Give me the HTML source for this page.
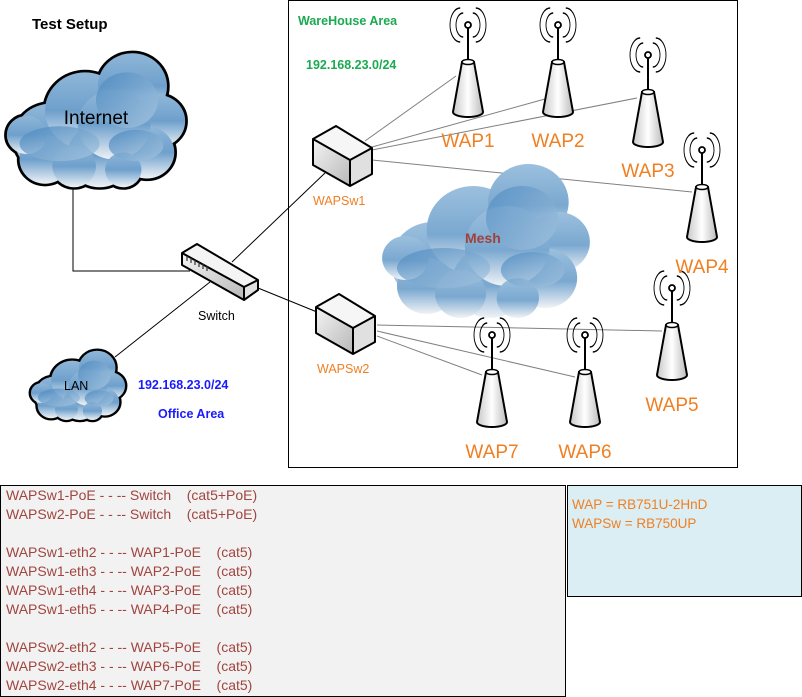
<!DOCTYPE html>
<html><head><meta charset="utf-8"><style>
body{margin:0;background:#fff;}
svg{display:block;font-family:"Liberation Sans",sans-serif;}
.box{position:absolute;border:1px solid #000;font-family:"Liberation Sans",sans-serif;font-size:14px;}
</style></head><body>
<div style="position:relative;width:802px;height:697px;overflow:hidden;">
<svg width="802" height="697" viewBox="0 0 802 697" style="position:absolute;left:0;top:0">
<defs>
<linearGradient id="cg" x1="0" y1="0" x2="0" y2="1">
<stop offset="0" stop-color="#8fb6d8"/><stop offset="0.5" stop-color="#6ea0cc"/><stop offset="1" stop-color="#eef2f6"/>
</linearGradient>
<linearGradient id="cg2" x1="0" y1="0" x2="0" y2="1">
<stop offset="0" stop-color="#9cc0de"/><stop offset="0.55" stop-color="#7aa8d0"/><stop offset="1" stop-color="#f0f3f6"/>
</linearGradient>
<linearGradient id="cd" x1="0" y1="0" x2="1" y2="1">
<stop offset="0" stop-color="#4a88c0"/><stop offset="1" stop-color="#a9c7e0"/>
</linearGradient>
<linearGradient id="bx" x1="0" y1="0" x2="1" y2="1">
<stop offset="0" stop-color="#f4f4f4"/><stop offset="1" stop-color="#b8b8b8"/>
</linearGradient>
<linearGradient id="cone" x1="0" y1="0" x2="1" y2="0">
<stop offset="0" stop-color="#c8c8c8"/><stop offset="0.5" stop-color="#ffffff"/><stop offset="1" stop-color="#bbbbbb"/>
</linearGradient>
<g id="cshape">
<circle cx="25" cy="52" r="20"/><circle cx="44" cy="36" r="22"/><circle cx="70" cy="22" r="19"/>
<circle cx="84" cy="42" r="15"/><circle cx="78" cy="60" r="15"/><circle cx="52" cy="62" r="18"/>
<circle cx="22" cy="64" r="14"/><circle cx="12" cy="50" r="11"/><circle cx="60" cy="44" r="20"/>
<circle cx="38" cy="68" r="12"/><circle cx="65" cy="70" r="10"/>
</g>
<g id="cinner">
<ellipse cx="30" cy="55" rx="22" ry="10"/><ellipse cx="67" cy="30" rx="17" ry="16"/><ellipse cx="72" cy="56" rx="15" ry="9"/>
</g>
<g id="wap">
<path d="M-8,-12 A8,8 0 0 0 -8,12 M8,-12 A8,8 0 0 1 8,12 M-13,-17 A13,13 0 0 0 -13,17 M13,-17 A13,13 0 0 1 13,17" transform="translate(0,-37) scale(0.6,1)" fill="none" stroke="#000" stroke-width="1.5"/>
<line x1="0" y1="-37" x2="0" y2="0" stroke="#000" stroke-width="2"/>
<circle cx="0" cy="-37" r="3" fill="#fff" stroke="#000" stroke-width="1.8"/>
<path d="M-6,0 L-15,50 A15,5 0 0 0 15,50 L6,0 Z" fill="url(#cone)" stroke="#000" stroke-width="2"/>
<ellipse cx="0" cy="0" rx="6" ry="2.5" fill="#fff" stroke="#000" stroke-width="1.5"/>
</g>
<g id="sbox">
<path d="M313,139 L336,126 L372,148 L350,160 Z" fill="#f6f6f6"/>
<path d="M313,139 L350,160 L350,186 L313,165 Z" fill="url(#bx)"/>
<path d="M350,160 L372,148 L372,174 L350,186 Z" fill="#e0e0e0"/>
<path d="M313,139 L336,126 L372,148 L372,174 L350,186 L313,165 Z M313,139 L350,160 L372,148 M350,160 L350,186" fill="none" stroke="#000" stroke-width="2" stroke-linejoin="round"/>
</g>
</defs>

<rect x="288.5" y="0.5" width="449" height="467" fill="none" stroke="#000"/>

<g stroke="#000" stroke-width="1" fill="none">
<polyline points="73,187 73,271 190,271"/>
<line x1="232" y1="262" x2="325" y2="173"/>
<line x1="258" y1="288" x2="317" y2="312"/>
<line x1="210" y1="282" x2="115" y2="357"/>
</g>
<g stroke="#808080" stroke-width="1">
<line x1="365" y1="141" x2="456" y2="76"/>
<line x1="372" y1="147" x2="545" y2="99"/>
<line x1="372" y1="150" x2="637" y2="98"/>
<line x1="372" y1="160" x2="692" y2="192"/>
<line x1="377" y1="325" x2="662" y2="331"/>
<line x1="377" y1="331" x2="575" y2="377"/>
<line x1="377" y1="336" x2="482" y2="375"/>
</g>

<g transform="translate(5,48) scale(1.82,1.74)">
<use href="#cshape" fill="#000" stroke="#000" stroke-width="3"/>
<use href="#cshape" fill="url(#cg)"/>
<use href="#cinner" fill="url(#cd)" opacity="0.8"/>
</g>
<g transform="translate(30,348) scale(0.96,0.9)">
<use href="#cshape" fill="#000" stroke="#000" stroke-width="5"/>
<use href="#cshape" fill="url(#cg)"/>
<use href="#cinner" fill="url(#cd)" opacity="0.8"/>
</g>
<g transform="translate(380,158) scale(2.12,2.0)">
<use href="#cshape" fill="url(#cg2)"/>
<use href="#cinner" fill="url(#cd)" opacity="0.7"/>
</g>

<path d="M182,253 L197,244 L258,280 L244,287 Z" fill="#f4f4f4"/>
<path d="M182,253 L244,287 L244,300 L182,265 Z" fill="url(#bx)"/>
<path d="M244,287 L258,280 L258,290 L244,300 Z" fill="#e0e0e0"/>
<path d="M182,253 L197,244 L258,280 L258,290 L244,300 L182,265 Z M182,253 L244,287 L258,280 M244,287 L244,300" fill="none" stroke="#000" stroke-width="2" stroke-linejoin="round"/>
<g stroke="#333" stroke-width="1.2"><line x1="187" y1="256" x2="187" y2="261"/><line x1="191" y1="258" x2="191" y2="263"/><line x1="195" y1="260" x2="195" y2="265"/><line x1="199" y1="262" x2="199" y2="267"/><line x1="203" y1="264" x2="203" y2="269"/><line x1="207" y1="266" x2="207" y2="271"/></g>

<use href="#sbox"/>
<use href="#sbox" transform="translate(3,168)"/>

<use href="#wap" transform="translate(468,62)"/>
<use href="#wap" transform="translate(558,62)"/>
<use href="#wap" transform="translate(648,92)"/>
<use href="#wap" transform="translate(702,187)"/>
<use href="#wap" transform="translate(672,325)"/>
<use href="#wap" transform="translate(585,372)"/>
<use href="#wap" transform="translate(492,372)"/>

<text x="32" y="29" font-size="15" font-weight="bold" fill="#000">Test Setup</text>
<text x="96" y="124" font-size="19" text-anchor="middle" fill="#000">Internet</text>
<text x="198" y="320" font-size="12.5" fill="#000">Switch</text>
<text x="64" y="390" font-size="12.5" fill="#000">LAN</text>
<text x="138" y="389" font-size="12.5" font-weight="bold" fill="#1a1aff">192.168.23.0/24</text>
<text x="158" y="418" font-size="12.5" font-weight="bold" fill="#1a1aff">Office Area</text>
<text x="298" y="25" font-size="12.5" font-weight="bold" fill="#1aaa50">WareHouse Area</text>
<text x="306" y="69" font-size="12.5" font-weight="bold" fill="#1aaa50">192.168.23.0/24</text>
<text x="313" y="205" font-size="12.5" fill="#f07f22">WAPSw1</text>
<text x="317" y="373" font-size="12.5" fill="#f07f22">WAPSw2</text>
<text x="465" y="243" font-size="14" font-weight="bold" fill="#a0413c">Mesh</text>
<g font-size="19" fill="#f07f22" text-anchor="middle">
<text x="468" y="147">WAP1</text>
<text x="558" y="147">WAP2</text>
<text x="648" y="177">WAP3</text>
<text x="702" y="273">WAP4</text>
<text x="672" y="411">WAP5</text>
<text x="585" y="458">WAP6</text>
<text x="492" y="458">WAP7</text>
</g>
</svg>

<div class="box" style="left:0;top:485px;width:564px;height:210px;background:#f2f2f2;color:#a0453f;line-height:19px;">
<div style="padding:0 0 0 5px">
WAPSw1-PoE - - -- Switch &nbsp;&nbsp; (cat5+PoE)<br>
WAPSw2-PoE - - -- Switch &nbsp;&nbsp; (cat5+PoE)<br><br>
WAPSw1-eth2 - - -- WAP1-PoE &nbsp;&nbsp; (cat5)<br>
WAPSw1-eth3 - - -- WAP2-PoE &nbsp;&nbsp; (cat5)<br>
WAPSw1-eth4 - - -- WAP3-PoE &nbsp;&nbsp; (cat5)<br>
WAPSw1-eth5 - - -- WAP4-PoE &nbsp;&nbsp; (cat5)<br><br>
WAPSw2-eth2 - - -- WAP5-PoE &nbsp;&nbsp; (cat5)<br>
WAPSw2-eth3 - - -- WAP6-PoE &nbsp;&nbsp; (cat5)<br>
WAPSw2-eth4 - - -- WAP7-PoE &nbsp;&nbsp; (cat5)
</div></div>
<div class="box" style="left:567px;top:485px;width:233px;height:110px;background:#dbeef3;color:#f07f22;line-height:19px;font-size:13.5px;">
<div style="padding:9px 0 0 4px">WAP = RB751U-2HnD<br>WAPSw = RB750UP</div>
</div>
</div>
</body></html>
